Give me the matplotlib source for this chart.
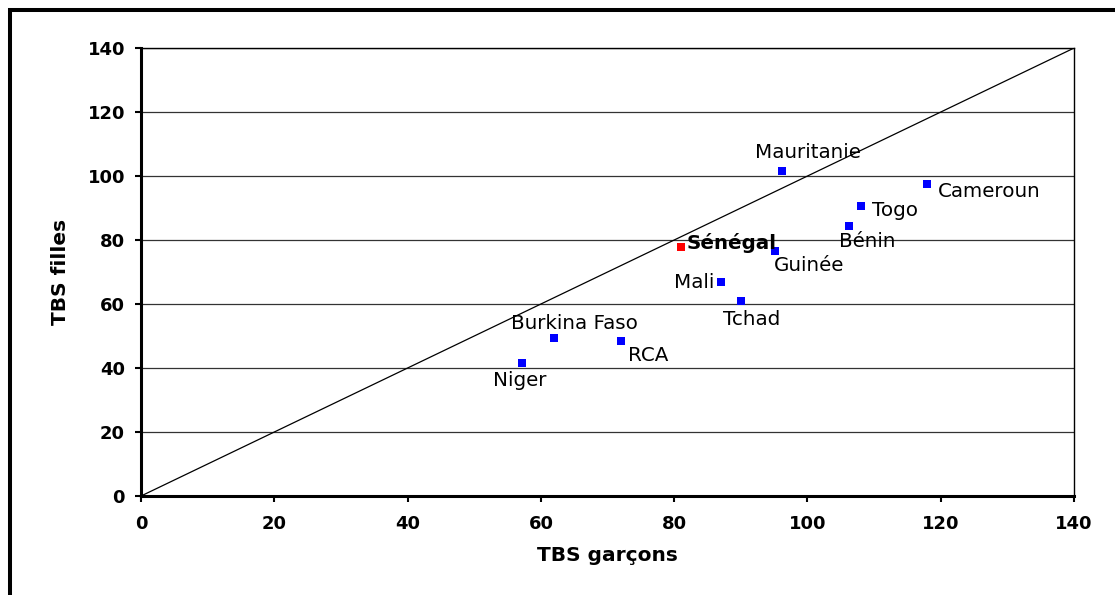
import numpy as np
import matplotlib
matplotlib.use('Agg')
import matplotlib.pyplot as plt
from matplotlib.patches import Rectangle

# TBS (taux brut de scolarisation) garcons / filles
pays = ['Mauritanie', 'Cameroun', 'Togo', 'Bénin', 'Sénégal', 'Guinée',
        'Mali', 'Tchad', 'Burkina Faso', 'RCA', 'Niger']
tbs_garcons = [96.2, 118.0, 108.0, 106.2, 81.0, 95.1, 87.0, 90.0, 62.0, 72.0, 57.2]
tbs_filles = [101.6, 97.5, 90.6, 84.4, 77.8, 76.6, 66.9, 60.9, 49.4, 48.4, 41.6]
ticks = [0, 20, 40, 60, 80, 100, 120, 140]

# label offsets in pixels (dx, dy, ha)
offsets = {
    'Mauritanie': (26, 18, 'center'),
    'Cameroun': (10, -7, 'left'),
    'Togo': (11, -4, 'left'),
    'Bénin': (18, -16, 'center'),
    'Sénégal': (6, 4, 'left'),
    'Guinée': (-1, -15, 'left'),
    'Mali': (-6, -1, 'right'),
    'Tchad': (11, -18, 'center'),
    'Burkina Faso': (20, 14, 'center'),
    'RCA': (7, -14, 'left'),
    'Niger': (-3, -18, 'center'),
}

fig = plt.figure(figsize=(11.15, 5.95), dpi=100)
ax = fig.add_axes([0.1265, 0.1664, 0.8368, 0.7529])

# figure frame (only top/left visible)
fig.patches.append(Rectangle((10.3 / 1115, -0.5), 2.0, 1.5 - 10.3 / 595,
                             transform=fig.transFigure, fill=False,
                             edgecolor='black', linewidth=2.9, clip_on=False))

for t in ticks[1:]:
    ax.axhline(t, color='#333333', lw=0.9, zorder=1)

ax.plot([0, 140], [0, 140], color='black', lw=0.9, zorder=2)

colors = ['#FF0000' if p == 'Sénégal' else '#0000FF' for p in pays]
ax.scatter(tbs_garcons, tbs_filles, marker='s', s=33, c=colors,
           linewidths=0, zorder=3)

for p, x, y in zip(pays, tbs_garcons, tbs_filles):
    dx, dy, ha = offsets[p]
    ax.annotate(p, (x, y), xytext=(dx, dy), textcoords='offset pixels',
                ha=ha, va='center', fontsize=14.3,
                fontweight='bold' if p == 'Sénégal' else 'normal', zorder=4)

ax.set_xlim(0, 140)
ax.set_ylim(0, 140)
ax.set_xticks(ticks)
ax.set_yticks(ticks)
ax.tick_params(direction='out', length=4.5, width=1.5, labelsize=13, pad=7)
for lab in ax.get_xticklabels() + ax.get_yticklabels():
    lab.set_fontweight('bold')
ax.tick_params(axis='x', pad=9)

ax.spines['left'].set_linewidth(2.2)
ax.spines['bottom'].set_linewidth(2.2)
ax.spines['top'].set_linewidth(1.0)
ax.spines['right'].set_linewidth(1.0)

ax.set_xlabel('TBS garçons', fontsize=14.5, fontweight='bold')
ax.set_ylabel('TBS filles', fontsize=14.5, fontweight='bold')
ax.xaxis.set_label_coords(0.5, -0.112)
ax.yaxis.set_label_coords(-0.076, 0.5)

fig.savefig('out.png', dpi=100)
